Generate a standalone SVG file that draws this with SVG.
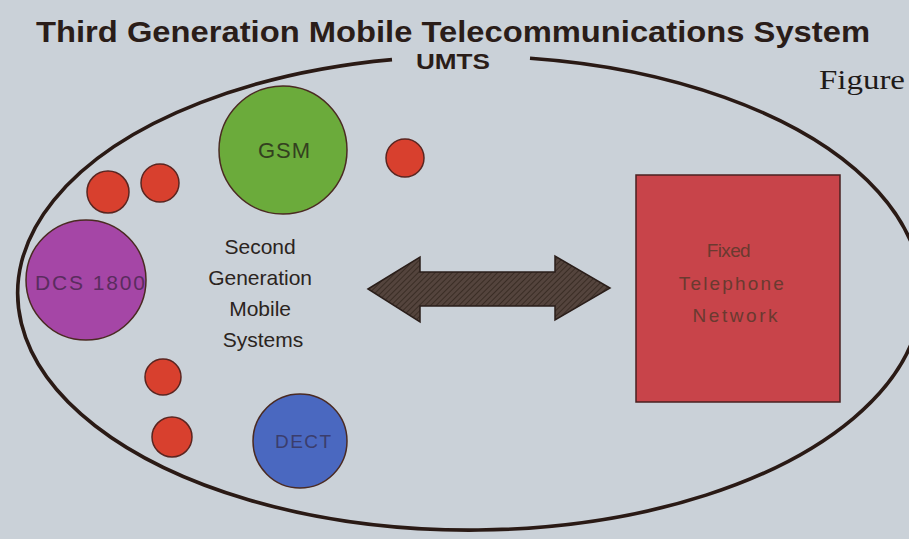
<svg xmlns="http://www.w3.org/2000/svg" width="909" height="539" viewBox="0 0 909 539">
  <defs>
    <pattern id="hatch" width="4" height="4" patternUnits="userSpaceOnUse" patternTransform="rotate(45)">
      <rect width="4" height="4" fill="#54443d"/>
      <line x1="0" y1="0" x2="0" y2="4" stroke="#33271f" stroke-width="1.6"/>
    </pattern>
    <style>
      .title { font-family: "Liberation Sans", Arial, sans-serif; font-weight: bold; fill: #2a1d19; }
      .lbl { font-family: "Liberation Sans", Arial, sans-serif; text-anchor: middle; }
      .small { fill: #d8402e; stroke: #5a2520; stroke-width: 1.5; }
      .node { stroke: #4a2a22; stroke-width: 1.5; }
    </style>
  </defs>

  <!-- paper -->
  <rect width="909" height="539" fill="#cad1d8"/>

  <!-- heading -->
  <text class="title" x="453" y="42" font-size="30" text-anchor="middle" textLength="834" lengthAdjust="spacingAndGlyphs">Third Generation Mobile Telecommunications System</text>
  <text x="862" y="89" font-family="Liberation Serif, 'Times New Roman', serif" font-size="28" fill="#1e1a18" text-anchor="middle" textLength="86" lengthAdjust="spacingAndGlyphs">Figure</text>

  <!-- UMTS boundary -->
  <g id="umts">
    <path d="M 392 59.6 A 452 237 0 1 0 530 58.2" transform="translate(0,0)" fill="none" stroke="#2a1a15" stroke-width="3.6"/>
    <text class="title" x="453" y="69" font-size="22" text-anchor="middle" textLength="74" lengthAdjust="spacingAndGlyphs">UMTS</text>
  </g>

  <!-- second generation systems -->
  <g id="gsm">
    <circle class="node" cx="283" cy="150" r="64" fill="#6bab3b"/>
    <text class="lbl" x="284" y="158" font-size="22" fill="#33401f" textLength="52" lengthAdjust="spacing">GSM</text>
  </g>
  <g id="dcs1800">
    <circle class="node" cx="86" cy="280" r="60" fill="#a546a6"/>
    <text class="lbl" x="90" y="290" font-size="21" fill="#5a2c5e" textLength="110" lengthAdjust="spacing">DCS 1800</text>
  </g>
  <g id="dect">
    <circle class="node" cx="300" cy="441" r="47" fill="#4a68c0"/>
    <text class="lbl" x="303" y="448" font-size="19" fill="#3b3d6c" textLength="56" lengthAdjust="spacing">DECT</text>
  </g>

  <g id="small-systems">
    <circle class="small" cx="405" cy="158" r="19"/>
    <circle class="small" cx="108" cy="192" r="21"/>
    <circle class="small" cx="160" cy="183" r="19"/>
    <circle class="small" cx="163" cy="377" r="18"/>
    <circle class="small" cx="172" cy="437" r="20"/>
  </g>

  <g id="second-gen-label">
    <text class="lbl" font-size="21" fill="#2b2420">
      <tspan x="263" y="254">Second</tspan>
      <tspan x="263" y="285">Generation</tspan>
      <tspan x="263" y="316">Mobile</tspan>
      <tspan x="263" y="347">Systems</tspan>
    </text>
  </g>

  <!-- fixed network -->
  <g id="fixed-network">
    <rect x="636" y="175" width="204" height="227" fill="#c8444a" stroke="#4a2020" stroke-width="1.5"/>
    <text class="lbl" font-size="19" fill="#6a3a30" lengthAdjust="spacing">
      <tspan x="731" y="257" textLength="44">Fixed</tspan>
      <tspan x="735" y="290" textLength="105">Telephone</tspan>
      <tspan x="735" y="322" textLength="85">Network</tspan>
    </text>
  </g>

  <!-- interworking connector -->
  <g id="connectors">
    <polygon points="368,289 420,257 420,272 555,272 555,256 610,288 555,320 555,306 420,306 420,322" fill="url(#hatch)" stroke="#2a1e1a" stroke-width="1.5" stroke-linejoin="miter"/>
  </g>
</svg>
